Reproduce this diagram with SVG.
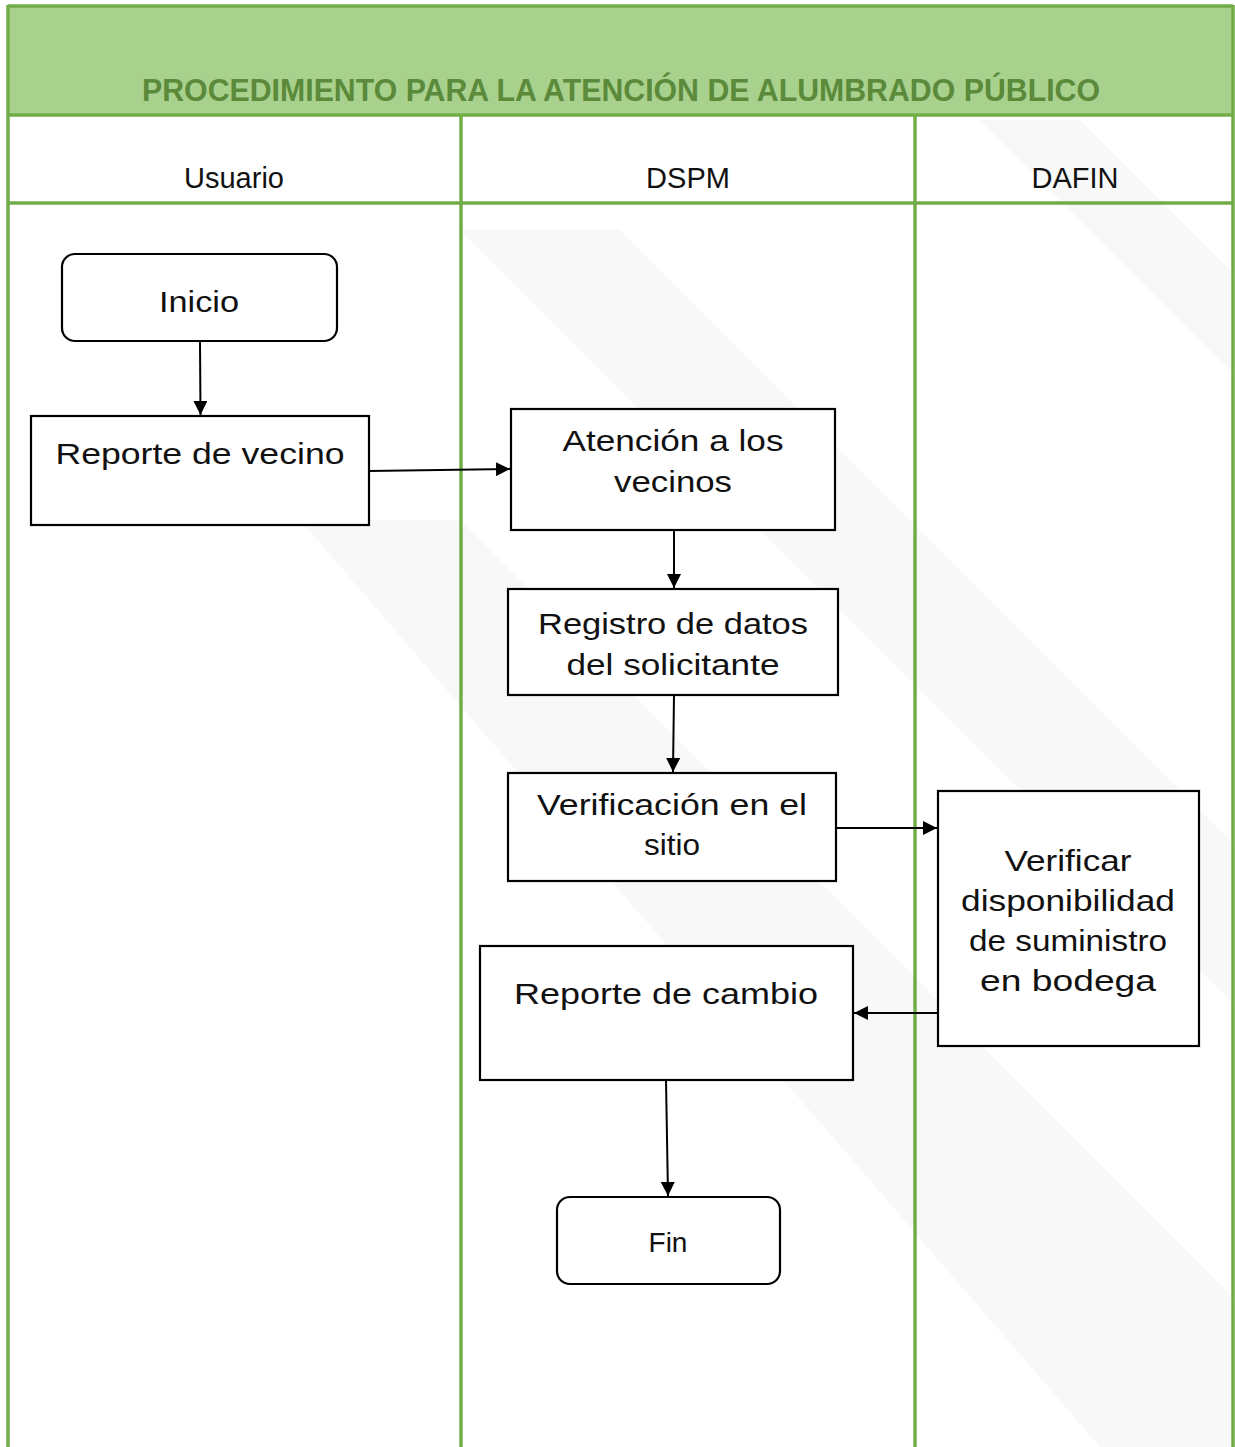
<svg xmlns="http://www.w3.org/2000/svg" width="1235" height="1447" viewBox="0 0 1235 1447">
  <defs>
    <style>
      .lane { stroke: #70AD47; stroke-width: 3.5; fill: none; }
      .box { fill: #FFFFFF; stroke: #000000; stroke-width: 2.2; }
      .edge { stroke: #000000; stroke-width: 2; fill: none; marker-end: url(#arrow); }
      .label { font-family: "Liberation Sans", Arial, sans-serif; font-size: 30px; fill: #111111; text-anchor: middle; }
      .lanehead { font-family: "Liberation Sans", Arial, sans-serif; font-size: 29px; fill: #111111; text-anchor: middle; }
      .title { font-family: "Liberation Sans Narrow", "Liberation Sans", Arial, sans-serif; font-size: 31px; font-weight: bold; fill: #5A8A3A; text-anchor: middle; }
      .band { fill: #F2F2F2; opacity: 0.5; }
    </style>
    <marker id="arrow" viewBox="0 0 14 14" refX="14" refY="7" markerWidth="14" markerHeight="14" markerUnits="userSpaceOnUse" orient="auto">
      <path d="M0,0 L14,7 L0,14 z" fill="#000000"/>
    </marker>
  </defs>

  <!-- page background with faint diagonal shading -->
  <rect x="0" y="0" width="1235" height="1447" fill="#FFFFFF"/>
  <g id="shading">
    <polygon class="band" points="460,230 620,230 1235,845 1235,1005"/>
    <polygon class="band" points="300,520 460,520 1235,1300 1235,1447 1100,1447"/>
    <polygon class="band" points="980,120 1080,120 1235,275 1235,375"/>
  </g>

  <!-- header band -->
  <g id="header">
    <rect x="8" y="6" width="1225" height="109" fill="#A9D18E"/>
    <text class="title" x="621" y="101" textLength="958" lengthAdjust="spacingAndGlyphs">PROCEDIMIENTO PARA LA ATENCIÓN DE ALUMBRADO PÚBLICO</text>
  </g>

  <!-- swimlane grid -->
  <g id="lanes">
    <line class="lane" x1="8" y1="6" x2="1233" y2="6"/>
    <line class="lane" x1="8" y1="115" x2="1233" y2="115"/>
    <line class="lane" x1="8" y1="203" x2="1233" y2="203"/>
    <line class="lane" x1="8" y1="5" x2="8" y2="1447"/>
    <line class="lane" x1="461" y1="115" x2="461" y2="1447"/>
    <line class="lane" x1="915" y1="115" x2="915" y2="1447"/>
    <line class="lane" x1="1233" y1="5" x2="1233" y2="1447"/>
    <text class="lanehead" x="234" y="188">Usuario</text>
    <text class="lanehead" x="688" y="188">DSPM</text>
    <text class="lanehead" x="1075" y="188">DAFIN</text>
  </g>

  <!-- connectors -->
  <g id="connectors">
    <line class="edge" x1="200" y1="341" x2="200.5" y2="415"/>
    <line class="edge" x1="369" y1="471" x2="510" y2="469"/>
    <line class="edge" x1="674" y1="530" x2="674" y2="588"/>
    <line class="edge" x1="674" y1="695" x2="673" y2="772"/>
    <line class="edge" x1="836" y1="828" x2="937" y2="828"/>
    <line class="edge" x1="938" y1="1013" x2="854" y2="1013"/>
    <line class="edge" x1="666" y1="1080" x2="668" y2="1196"/>
  </g>

  <!-- nodes -->
  <g id="node-inicio">
    <rect class="box" x="62" y="254" width="275" height="87" rx="13" ry="13"/>
    <text class="label" x="199" y="312" textLength="80" lengthAdjust="spacingAndGlyphs">Inicio</text>
  </g>
  <g id="node-reporte-vecino">
    <rect class="box" x="31" y="416" width="338" height="109"/>
    <text class="label" x="200" y="464" textLength="289" lengthAdjust="spacingAndGlyphs">Reporte de vecino</text>
  </g>
  <g id="node-atencion">
    <rect class="box" x="511" y="409" width="324" height="121"/>
    <text class="label" x="673" y="451" textLength="221" lengthAdjust="spacingAndGlyphs">Atención a los</text>
    <text class="label" x="673" y="492" textLength="118" lengthAdjust="spacingAndGlyphs">vecinos</text>
  </g>
  <g id="node-registro">
    <rect class="box" x="508" y="589" width="330" height="106"/>
    <text class="label" x="673" y="634" textLength="270" lengthAdjust="spacingAndGlyphs">Registro de datos</text>
    <text class="label" x="673" y="675" textLength="213" lengthAdjust="spacingAndGlyphs">del solicitante</text>
  </g>
  <g id="node-verificacion">
    <rect class="box" x="508" y="773" width="328" height="108"/>
    <text class="label" x="672" y="815" textLength="270" lengthAdjust="spacingAndGlyphs">Verificación en el</text>
    <text class="label" x="672" y="855" textLength="56" lengthAdjust="spacingAndGlyphs">sitio</text>
  </g>
  <g id="node-verificar-disponibilidad">
    <rect class="box" x="938" y="791" width="261" height="255"/>
    <text class="label" x="1068" y="871" textLength="127" lengthAdjust="spacingAndGlyphs">Verificar</text>
    <text class="label" x="1068" y="911" textLength="214" lengthAdjust="spacingAndGlyphs">disponibilidad</text>
    <text class="label" x="1068" y="951" textLength="198" lengthAdjust="spacingAndGlyphs">de suministro</text>
    <text class="label" x="1068" y="991" textLength="176" lengthAdjust="spacingAndGlyphs">en bodega</text>
  </g>
  <g id="node-reporte-cambio">
    <rect class="box" x="480" y="946" width="373" height="134"/>
    <text class="label" x="666" y="1004" textLength="304" lengthAdjust="spacingAndGlyphs">Reporte de cambio</text>
  </g>
  <g id="node-fin">
    <rect class="box" x="557" y="1197" width="223" height="87" rx="13" ry="13"/>
    <text class="label" x="668" y="1252" style="font-size:28px">Fin</text>
  </g>
</svg>
